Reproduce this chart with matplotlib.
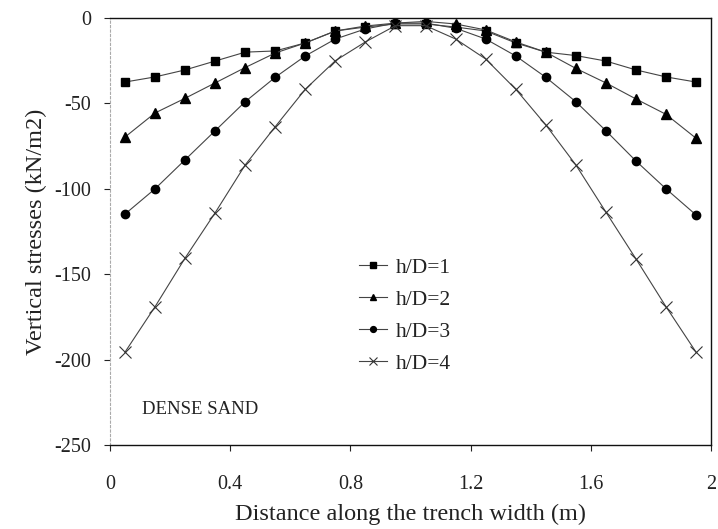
"""
Vertical stresses along the trench width, dense sand, h/D = 1..4
"""

import matplotlib.pyplot as plt
import numpy as np

# ----- Data -----
distance = [0.05, 0.15, 0.25, 0.35, 0.45, 0.55, 0.65, 0.75, 0.85, 0.95,
            1.05, 1.15, 1.25, 1.35, 1.45, 1.55, 1.65, 1.75, 1.85, 1.95]

stress_hd1 = [-37.5, -34.5, -30.4, -25.2, -20.0, -19.3, -14.6, -7.6, -5.3, -3.5,
              -3.5, -5.3, -7.6, -14.6, -20.0, -22.0, -25.2, -30.4, -34.5, -37.5]
stress_hd2 = [-69.7, -55.6, -47.0, -38.0, -29.0, -20.5, -14.6, -7.6, -4.7, -3.0,
              -2.0, -3.5, -7.0, -14.0, -20.0, -29.5, -38.0, -47.4, -56.4, -70.4]
stress_hd3 = [-114.8, -100.0, -83.0, -66.0, -49.0, -34.7, -22.2, -12.3, -6.4, -3.0,
              -3.0, -6.0, -12.3, -22.2, -34.7, -49.0, -66.0, -83.7, -100.0, -115.3]
stress_hd4 = [-195.6, -169.0, -140.5, -114.0, -86.0, -63.6, -41.7, -25.0, -14.0, -4.5,
              -4.5, -12.3, -24.0, -41.7, -62.6, -86.0, -113.6, -141.0, -169.0, -195.6]

labels = ['h/D=1', 'h/D=2', 'h/D=3', 'h/D=4']
x_ticks = [0, 0.4, 0.8, 1.2, 1.6, 2]
x_ticklabels = ['0', '0.4', '0.8', '1.2', '1.6', '2']
y_ticks = [0, -50, -100, -150, -200, -250]

# ----- Plot -----
plt.rcParams['font.family'] = ['Liberation Serif', 'DejaVu Serif']
plt.rcParams['axes.unicode_minus'] = False

fig = plt.figure(figsize=(7.18, 5.29), dpi=100)
ax = fig.add_axes([0.1532, 0.1588, 0.8371, 0.8072])

line_kw = dict(color='#444444', linewidth=0.8)
ax.plot(distance, stress_hd1, marker='s', markersize=6, markerfacecolor='black',
        markeredgecolor='black', label=labels[0], **line_kw)
ax.plot(distance, stress_hd2, marker='^', markersize=6.5, markerfacecolor='black',
        markeredgecolor='black', label=labels[1], **line_kw)
ax.plot(distance, stress_hd3, marker='o', markersize=6, markerfacecolor='black',
        markeredgecolor='black', label=labels[2], **line_kw)
ax.plot(distance, stress_hd4, marker='x', markersize=8, markeredgewidth=0.8,
        markeredgecolor='#333333', label=labels[3], **line_kw)

ax.set_xlim(0, 2)
ax.set_ylim(-250, 0)
ax.set_xticks(x_ticks)
ax.set_xticklabels(x_ticklabels)
ax.set_yticks(y_ticks)
ax.tick_params(axis='both', direction='out', length=4.5, width=0.8,
               labelsize=14.5, colors='#222222')
ax.tick_params(axis='x', pad=17)
ax.tick_params(axis='y', pad=9)

ax.set_xlabel('Distance along the trench width (m)', fontsize=17.5, color='#222222', labelpad=7)
ax.set_ylabel('Vertical stresses (kN/m2)', fontsize=17.5, color='#222222', labelpad=5)

for side in ['top', 'bottom', 'right']:
    ax.spines[side].set_linewidth(1.0)
    ax.spines[side].set_color('#111111')
ax.spines['left'].set_color('#aaaaaa')
ax.spines['left'].set_linestyle((0, (2, 2)))
ax.spines['left'].set_linewidth(0.8)

ax.text(0.105, -229, 'DENSE SAND', fontsize=13.5, color='#222222', va='center', ha='left')

leg = ax.legend(loc='center left', bbox_to_anchor=(0.382, 0.303), frameon=False,
                fontsize=15.5, markerscale=0.7, handlelength=1.3, handletextpad=0.4,
                labelspacing=0.55)
for t in leg.get_texts():
    t.set_color('#222222')

plt.savefig('out.png', dpi=100)
